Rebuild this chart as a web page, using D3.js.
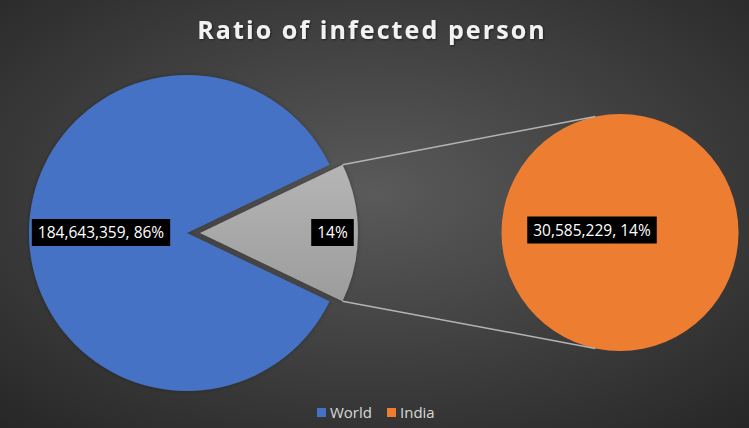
<!DOCTYPE html>
<html>
<head>
<meta charset="utf-8">
<script src="https://cdn.jsdelivr.net/npm/d3@7"></script>
<style>
  body { margin: 0; background: #333; }
  svg { display: block; }
</style>
</head>
<body>
<div id="chart-area"></div>
<script>
//============================DATA============================
var categories = ["India", "World"];
var values = [30585229, 184643359];
var colors = ["#ED7D31", "#4472C4"];
var otherColor = "#A5A5A5";
var chartTitle = "Ratio of infected person";

//============================LAYOUT============================
var width = 749, height = 428;
var main = { cx: 187, cy: 233, r: 158 };
var second = { cx: 620, cy: 232.5, r: 118.5 };
var explode = 13;

var svg = d3.select("#chart-area")
    .append("svg")
    .attr("width", width)
    .attr("height", height);

var defs = svg.append("defs");

// dark radial background
var bg = defs.append("radialGradient")
    .attr("id", "bg")
    .attr("cx", "50%").attr("cy", "45%").attr("r", "75%");
bg.append("stop").attr("offset", "0%").attr("stop-color", "#5a5a5a");
bg.append("stop").attr("offset", "100%").attr("stop-color", "#262626");

var greyGrad = defs.append("linearGradient")
    .attr("id", "greyGrad")
    .attr("x1", 0).attr("y1", 0).attr("x2", 0).attr("y2", 1);
greyGrad.append("stop").attr("offset", "0%").attr("stop-color", "#b5b5b5");
greyGrad.append("stop").attr("offset", "100%").attr("stop-color", "#9c9c9c");

var shadow = defs.append("filter").attr("id", "shadow")
    .attr("x", "-20%").attr("y", "-20%").attr("width", "140%").attr("height", "140%");
shadow.append("feDropShadow")
    .attr("dx", 0).attr("dy", 0).attr("stdDeviation", 2)
    .attr("flood-color", "#000").attr("flood-opacity", 0.3);

var titleShadow = defs.append("filter").attr("id", "tshadow");
titleShadow.append("feDropShadow")
    .attr("dx", 1).attr("dy", 1).attr("stdDeviation", 1)
    .attr("flood-color", "#000").attr("flood-opacity", 0.5);

svg.append("rect")
    .attr("width", width).attr("height", height)
    .attr("fill", "url(#bg)");

//title
svg.append("text")
    .attr("x", 372)
    .attr("y", 39)
    .attr("text-anchor", "middle")
    .attr("font-family", "'Open Sans', sans-serif")
    .attr("font-weight", "bold")
    .attr("font-size", "25px")
    .attr("letter-spacing", "2.1px")
    .attr("fill", "#f2f2f2")
    .attr("filter", "url(#tshadow)")
    .text(chartTitle);

//=====================Pie of pie======================
var total = d3.sum(values);
var otherAngle = 2 * Math.PI * values[0] / total;
var start = Math.PI / 2 - otherAngle / 2;

var pie = d3.pie()
    .sort(null)
    .startAngle(start)
    .endAngle(start + 2 * Math.PI);
var slices = pie(values);

var arcMain = d3.arc().innerRadius(0).outerRadius(main.r);

var gMain = svg.append("g")
    .attr("transform", "translate(" + main.cx + "," + main.cy + ")");

// world slice
gMain.append("path")
    .attr("d", arcMain(slices[1]))
    .attr("fill", colors[1])
    .attr("filter", "url(#shadow)");

// "other" slice, exploded outward
var mid = (slices[0].startAngle + slices[0].endAngle) / 2;
var ox = explode * Math.sin(mid), oy = -explode * Math.cos(mid);
gMain.append("path")
    .attr("transform", "translate(" + ox + "," + oy + ")")
    .attr("d", arcMain(slices[0]))
    .attr("fill", "url(#greyGrad)")
    .attr("filter", "url(#shadow)");

// second pie (India only)
var arcSecond = d3.arc().innerRadius(0).outerRadius(second.r);
var secondSlices = d3.pie().sort(null)([values[0]]);
svg.append("g")
    .attr("transform", "translate(" + second.cx + "," + second.cy + ")")
    .append("path")
    .attr("d", arcSecond(secondSlices[0]))
    .attr("fill", colors[0]);

// connector lines
function polar(cx, cy, r, a) { return [cx + r * Math.sin(a), cy - r * Math.cos(a)]; }
var joinA = 12 * Math.PI / 180;
var p1 = polar(main.cx + ox, main.cy + oy, main.r, slices[0].startAngle);
var p2 = polar(main.cx + ox, main.cy + oy, main.r, slices[0].endAngle);
var q1 = polar(second.cx, second.cy, second.r, -joinA);
var q2 = polar(second.cx, second.cy, second.r, Math.PI + joinA);
[[p1, q1], [p2, q2]].forEach(function(l) {
    svg.append("line")
        .attr("x1", l[0][0]).attr("y1", l[0][1])
        .attr("x2", l[1][0]).attr("y2", l[1][1])
        .attr("stroke", "#b4b4b4")
        .attr("stroke-width", 1.5);
});

//=====================Labels======================
var fmt = d3.format(",");
var pct = function(v) { return Math.round(v / total * 100) + "%"; };
var labels = [
    { x: 101, y: 232.5, text: fmt(values[1]) + ", " + pct(values[1]) },
    { x: 332.5, y: 232.5, text: pct(values[0]) },
    { x: 592, y: 230, text: fmt(values[0]) + ", " + pct(values[0]) }
];

labels.forEach(function(d) {
    var g = svg.append("g").attr("transform", "translate(" + d.x + "," + d.y + ")");
    var rect = g.append("rect").attr("fill", "#000");
    var t = g.append("text")
        .attr("text-anchor", "middle")
        .attr("dy", "0.36em")
        .attr("font-family", "'Open Sans', sans-serif")
        .attr("font-size", "15.5px")
        .attr("fill", "#fff")
        .text(d.text);
    var w = t.node().getComputedTextLength();
    rect.attr("x", -w / 2 - 6).attr("y", -13.5)
        .attr("width", w + 12).attr("height", 27);
});

//=====================Legend======================
var legendItems = [
    { name: categories[1], color: colors[1], x: 317 },
    { name: categories[0], color: colors[0], x: 387 }
];
legendItems.forEach(function(d) {
    svg.append("rect")
        .attr("x", d.x).attr("y", 408)
        .attr("width", 9).attr("height", 9)
        .attr("fill", d.color);
    svg.append("text")
        .attr("x", d.x + 13).attr("y", 418)
        .attr("font-family", "'Open Sans', sans-serif")
        .attr("font-size", "15px")
        .attr("fill", "#d9d9d9")
        .text(d.name);
});
</script>
</body>
</html>
